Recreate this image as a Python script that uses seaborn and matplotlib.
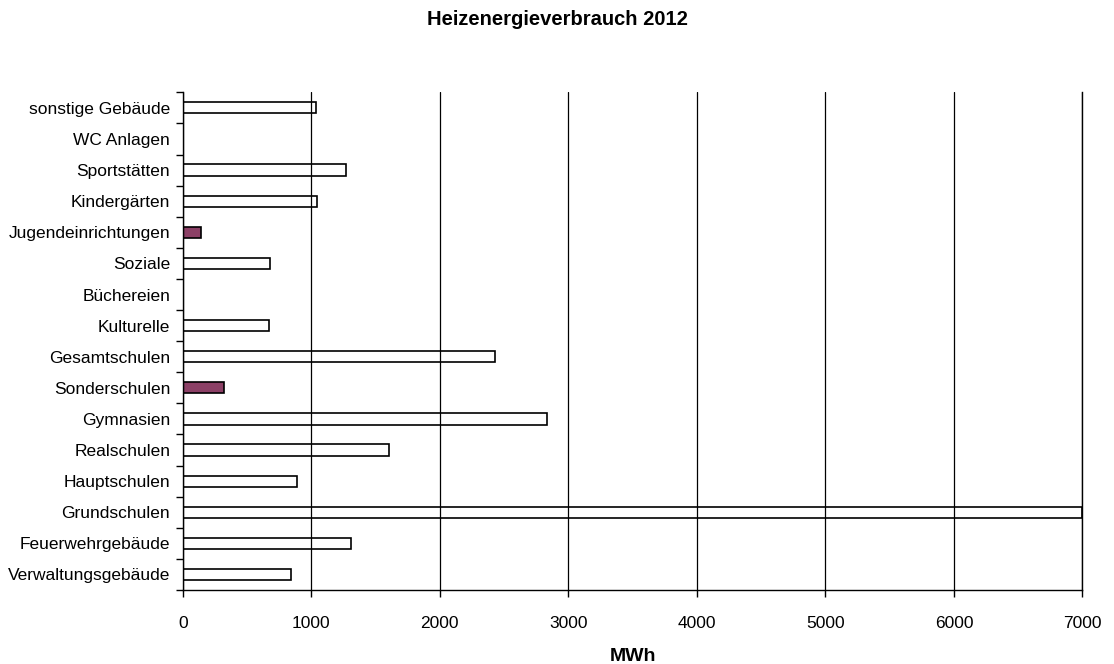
import matplotlib
matplotlib.use("Agg")
import matplotlib.pyplot as plt
import numpy as np
import pandas as pd
import seaborn as sns

# Data (top to bottom as shown in the chart)
kategorien = ["sonstige Gebäude", "WC Anlagen", "Sportstätten", "Kindergärten",
              "Jugendeinrichtungen", "Soziale", "Büchereien", "Kulturelle",
              "Gesamtschulen", "Sonderschulen", "Gymnasien", "Realschulen",
              "Hauptschulen", "Grundschulen", "Feuerwehrgebäude", "Verwaltungsgebäude"]
verbrauch_mwh = [1036, 0, 1274, 1041, 140, 681, 0, 668,
                 2429, 321, 2836, 1608, 891, 7000, 1313, 841]
hervorgehoben = ["Jugendeinrichtungen", "Sonderschulen"]
x_ticks = [0, 1000, 2000, 3000, 4000, 5000, 6000, 7000]

df = pd.DataFrame({"kategorie": kategorien, "mwh": verbrauch_mwh})
farben = {k: ("#993366" if k in hervorgehoben else "white") for k in kategorien}

sns.set_style("white")
plt.rcParams["font.family"] = ["Liberation Sans", "DejaVu Sans"]
plt.rcParams["text.color"] = "black"
plt.rcParams["xtick.color"] = "black"
plt.rcParams["ytick.color"] = "black"
plt.rcParams["axes.labelcolor"] = "black"

fig, ax = plt.subplots(figsize=(11.14, 6.64), dpi=100)
fig.subplots_adjust(left=0.164, right=0.9717, top=0.861, bottom=0.1114)

sns.barplot(data=df, y="kategorie", x="mwh", hue="kategorie", palette=farben,
            order=kategorien, width=0.36, edgecolor="black", linewidth=1.2,
            legend=False, ax=ax)

ax.set_xlim(0, 7000)
ax.set_xticks(x_ticks)
ax.set_xticklabels([str(t) for t in x_ticks], fontsize=12.5)
ax.tick_params(axis="x", bottom=True, direction="out", length=5, width=1, pad=14)

# labels at the bar centers, tick marks between the categories
n = len(kategorien)
ax.set_yticks(np.arange(n))
ax.set_yticklabels(kategorien, fontsize=12.5)
ax.tick_params(axis="y", which="major", left=True, length=0, pad=9)
ax.set_yticks(np.arange(n + 1) - 0.5, minor=True)
ax.tick_params(axis="y", which="minor", left=True, direction="out", length=5, width=1)
ax.set_ylim(n - 0.5, -0.5)

ax.grid(axis="x", color="black", linewidth=0.9)
ax.grid(axis="y", visible=False)
ax.set_axisbelow(False)

ax.spines["top"].set_visible(False)
for s in ["left", "bottom", "right"]:
    ax.spines[s].set_color("black")
    ax.spines[s].set_linewidth(1)

ax.set_ylabel("")
ax.set_xlabel("MWh", fontsize=14, fontweight="bold", labelpad=12)
fig.suptitle("Heizenergieverbrauch 2012", fontsize=14.5, fontweight="bold", y=0.985)

fig.savefig("out.png", dpi=100)
